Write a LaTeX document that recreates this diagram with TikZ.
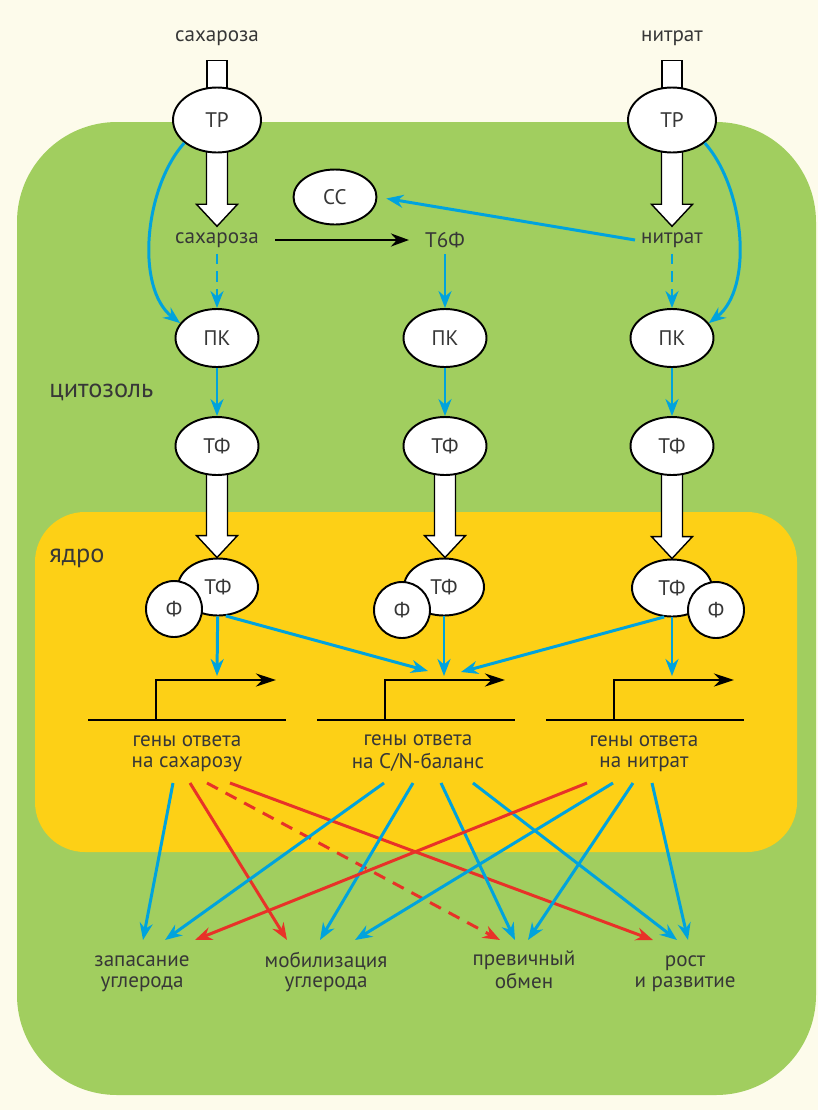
\documentclass[tikz,border=0pt]{standalone}
\usepackage{fontspec}
\setmainfont{PT Sans}
\usetikzlibrary{shapes.geometric, arrows.meta, calc}
\definecolor{cream}{RGB}{253,251,235}
\definecolor{leaf}{RGB}{161,206,95}
\definecolor{nucl}{RGB}{253,208,22}
\definecolor{sig}{RGB}{0,163,221}
\definecolor{neg}{RGB}{232,50,40}
\definecolor{txt}{RGB}{55,55,55}
\pgfdeclarelayer{back}
\pgfdeclarelayer{bg}
\pgfsetlayers{back,bg,main}
\newcommand{\fatarrow}[2]{%
  \begin{pgfonlayer}{bg}
  \draw[fat] ($(#1)+(-10.5,-6)$) -- ($(#1 |- #2)+(-10.5,-22)$) -- ($(#1 |- #2)+(-20.5,-22)$) -- (#1 |- #2) -- ($(#1 |- #2)+(20.5,-22)$) -- ($(#1 |- #2)+(10.5,-22)$) -- ($(#1)+(10.5,-6)$);
  \end{pgfonlayer}}

\begin{document}
\begin{tikzpicture}[x=0.02cm, y=-0.02cm,
  every node/.style={font=\fontsize{12pt}{11.5pt}\selectfont, text=txt},
  oval/.style={ellipse, draw=black, line width=1.1pt, fill=white, inner sep=0pt, minimum width=1.66cm, minimum height=1.16cm},
  port/.style={oval, minimum width=1.76cm, minimum height=1.3cm},
  phos/.style={circle, draw=black, line width=1.1pt, fill=white, inner sep=0pt, minimum size=1.12cm},
  fat/.style={draw=black, line width=0.8pt, fill=white, line join=miter},
  blu/.style={draw=sig, line width=1.7pt, -{Stealth[length=3.4mm, width=2.6mm]}},
  redd/.style={draw=neg, line width=1.7pt, -{Stealth[length=3.4mm, width=2.6mm]}},
  reddash/.style={redd, dash pattern=on 7pt off 5pt},
  gene/.style={draw=black, line width=1.6pt},
  region/.style={anchor=west, inner sep=0pt, font=\fontsize{15pt}{18pt}\selectfont},
  lbl/.style={align=center},
]
\useasboundingbox (0,0) rectangle (818,1110);
\begin{pgfonlayer}{back}
\fill[cream] (0,0) rectangle (818,1110);
\fill[leaf, rounded corners=2cm] (17,122) rectangle (816,1095);
\fill[nucl, rounded corners=1cm] (35,512) rectangle (797,852);
\end{pgfonlayer}

\node (sucOut) at (217,38) {сахароза};
\node (nitOut) at (672,38) {нитрат};
\node[port] (tpS) at (217,120) {ТР};
\node[port] (tpN) at (672,120) {ТР};
\node (sucC) at (217,240) {сахароза};
\node (t6f) at (445,240) {Т6Ф};
\node (nitC) at (672,240) {нитрат};
\node[oval, minimum height=1.1cm] (cc) at (335,197) {СС};
\node[oval] (pkS) at (217,338) {ПК};
\node[oval] (pkC) at (445,338) {ПК};
\node[oval] (pkN) at (672,338) {ПК};
\node[oval] (tfS) at (217,446) {ТФ};
\node[oval] (tfC) at (445,446) {ТФ};
\node[oval] (tfN) at (672,446) {ТФ};
\node[region] (cyt) at (49,392) {цитозоль};
\node[region] (nuc) at (49,558) {ядро};

\node[oval, minimum width=1.6cm, minimum height=1.14cm] (tfnS) at (218,587) {ТФ};
\node[phos] (phS) at (174,609) {Ф};
\node[oval, minimum width=1.6cm, minimum height=1.14cm] (tfnC) at (444,587) {ТФ};
\node[phos] (phC) at (402,610) {Ф};
\node[oval, minimum width=1.6cm, minimum height=1.14cm] (tfnN) at (672,588) {ТФ};
\node[phos] (phN) at (716,610) {Ф};

\foreach \nm/\cx in {S/187, C/416, N/645} {
  \draw[gene] (\cx-99,720) -- (\cx+99,720);
  \draw[gene, -{Stealth[length=4mm, width=2.6mm]}] (\cx-31,720) -- (\cx-31,680) -- (\cx+89,680);
}
\coordinate (tS) at (217,676);
\coordinate (tC) at (444,676);
\coordinate (tN) at (672,676);

\node[lbl] (gS) at (187,753) {\strut гены ответа\\\strut на сахарозу};
\node[lbl] (gC) at (418,753) {\strut гены ответа\\\strut на C/N-баланс};
\node[lbl] (gN) at (644,753) {\strut гены ответа\\\strut на нитрат};

\node[lbl] (bZ) at (142,973) {\strut запасание\\\strut углерода};
\node[lbl] (bM) at (326,973) {\strut мобилизация\\\strut углерода};
\node[lbl] (bP) at (524,973) {\strut превичный\\\strut обмен};
\node[lbl] (bR) at (685,973) {\strut рост\\\strut и развитие};

\begin{pgfonlayer}{bg}
\draw[fat] ($(tpS.north)+(-10,-26)$) rectangle ($(tpS.north)+(10,6)$);
\draw[fat] ($(tpN.north)+(-10,-26)$) rectangle ($(tpN.north)+(10,6)$);
\end{pgfonlayer}
\fatarrow{tpS.south}{sucC.north}
\fatarrow{tpN.south}{nitC.north}
\fatarrow{tfS.south}{tfnS.north}
\fatarrow{tfC.south}{tfnC.north}
\fatarrow{tfN.south}{tfnN.north}

\draw[black, line width=1.5pt, -{Stealth[length=3.6mm, width=2.6mm]}, shorten <=0.2cm, shorten >=0.2cm] (sucC.east) -- (t6f.west);
\draw[blu, shorten >=0.18cm] (nitC.west) -- (cc.east);
\draw[blu] (tpS.215) .. controls +(-40,45) and +(-45,-35) .. (pkS.158);
\draw[blu] (tpN.-35) .. controls +(40,45) and +(45,-35) .. (pkN.22);
\draw[blu, dash pattern=on 6pt off 4pt] (sucC) -- (pkS);
\draw[blu] (t6f) -- (pkC);
\draw[blu, dash pattern=on 6pt off 4pt] (nitC) -- (pkN);
\foreach \nm in {S, C, N} {
  \draw[blu] (pk\nm) -- (tf\nm);
}

\draw[blu] (tfnS) -- (tS);
\draw[blu] (tfnC) -- (tC);
\draw[blu] (tfnN) -- (tN);
\draw[blu] (tfnS.-75) -- ($(tC)+(-16,-5)$);
\draw[blu] (tfnN.-105) -- ($(tC)+(17,-4)$);

\foreach \a/\dx/\b/\ex/\sty in {S/-14/Z/1/blu, S/3/M/-39/redd, S/20/P/-24/reddash, S/43/R/-32/redd,
    C/-34/Z/23/blu, C/-5/M/-6/blu, C/23/P/-9/blu, C/55/R/-8/blu,
    N/-57/Z/53/redd, N/-31/M/29/blu, N/-11/P/4/blu, N/8/R/3/blu} {
  \draw[\sty] ($(g\a)+(\dx,30)$) -- ($(b\b)+(\ex,-33)$);
}
\end{tikzpicture}
\end{document}
